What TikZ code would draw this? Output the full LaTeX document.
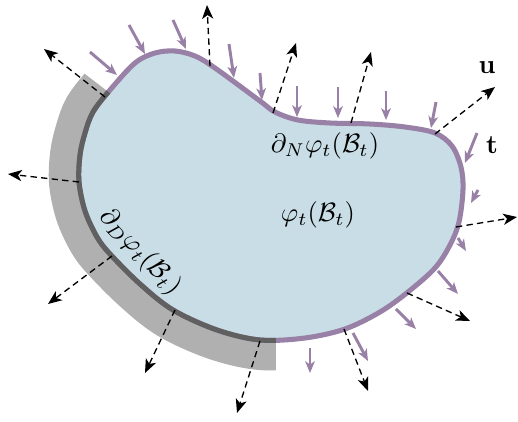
\documentclass[tikz,border=0pt]{standalone}
\usetikzlibrary{arrows.meta}
\definecolor{bodyfill}{RGB}{200,221,229}
\definecolor{bandgray}{RGB}{176,176,176}
\definecolor{bordergray}{RGB}{96,96,96}
\definecolor{tractpurple}{RGB}{152,128,166}
\begin{document}
\begin{tikzpicture}[x=0.377pt,y=-0.377pt,
  normalarrow/.style={black,line width=0.5pt,dash pattern=on 2.4pt off 1.6pt,-{Stealth[length=5.2pt,width=4.2pt,inset=1.4pt]}},
  tractarrow/.style={tractpurple,line width=1.1pt,-{Stealth[length=4.4pt,width=3.6pt,inset=1.2pt]}},
  lbl/.style={inner sep=0pt}]
\useasboundingbox (0,0) rectangle (518,422);
\path[save path=\bnd] plot[smooth cycle,tension=0.55] coordinates {
 (110,90) (135,63) (155,53) (175,51) (195,56) (215,68) (260,101)
 (275,112) (298,120) (330,123) (370,124) (405,127) (435,133) (452,146)
 (461,167) (463,190) (459,222) (450,245) (435,268) (408,292) (380,312)
 (345,329) (305,338) (260,340) (217,330) (173,310) (140,284) (110,254)
 (97,237) (85,211) (79,182) (80,155) (85,133) (93,112)};
% Dirichlet support band
\begin{scope}
 \clip (42,41) -- (141,117) -- (276,200) -- (276,430) -- (-10,430) -- (-10,41) -- cycle;
 \draw[bandgray,line width=22.6pt,use path=\bnd];
\end{scope}
% body
\fill[bodyfill,use path=\bnd];
\draw[tractpurple,line width=1.9pt,use path=\bnd];
\begin{scope}
 \clip (42,41) -- (141,117) -- (276,200) -- (276,430) -- (-10,430) -- (-10,41) -- cycle;
 \draw[bordergray,line width=1.9pt,use path=\bnd];
\end{scope}
% normals u (dashed)
\draw[normalarrow] (105,97) -- (44,49);
\draw[normalarrow] (79,182) -- (8,174);
\draw[normalarrow] (112,256) -- (48,304);
\draw[normalarrow] (175,310) -- (145,373);
\draw[normalarrow] (260,341) -- (237,413);
\draw[normalarrow] (344,329) -- (368,391);
\draw[normalarrow] (407,293) -- (470,321);
\draw[normalarrow] (456,227) -- (517,217);
\draw[normalarrow] (435,134) -- (495,87);
\draw[normalarrow] (351,123) -- (371,52);
\draw[normalarrow] (273,113) -- (296,43);
\draw[normalarrow] (210,66) -- (207,5);
% tractions t
\draw[tractarrow] (90,52) -- (117,75);
\draw[tractarrow] (129,25) -- (145,54);
\draw[tractarrow] (173,20) -- (186,49);
\draw[tractarrow] (229,44) -- (234,78);
\draw[tractarrow] (260,73) -- (262,100);
\draw[tractarrow] (297,86) -- (297,117);
\draw[tractarrow] (338,87) -- (338,118);
\draw[tractarrow] (386,91) -- (386,120);
\draw[tractarrow] (436,102) -- (431,128);
\draw[tractarrow] (477,133) -- (465,163);
\draw[tractarrow] (478,190) -- (471,203);
\draw[tractarrow] (458,238) -- (466,251);
\draw[tractarrow] (438,271) -- (458,294);
\draw[tractarrow] (396,309) -- (416,329);
\draw[tractarrow] (353,333) -- (368,361);
\draw[tractarrow] (310,348) -- (310,373);
% labels
\node[lbl] (u) at (487,68) {$\mathbf{u}$};
\node[lbl] (t) at (492,145) {$\mathbf{t}$};
\node[lbl] (neu) at (325,146) {$\partial_N\varphi_t(\mathcal{B}_t)$};
\node[lbl] (body) at (318,215) {$\varphi_t(\mathcal{B}_t)$};
\node[lbl,rotate=-47] (dir) at (140,252) {$\partial_D\varphi_t(\mathcal{B}_t)$};
\end{tikzpicture}
\end{document}
